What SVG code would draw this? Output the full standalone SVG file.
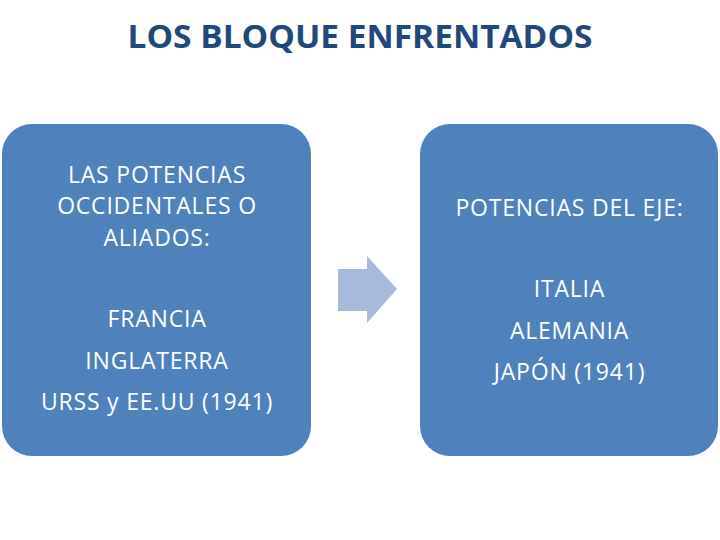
<svg xmlns="http://www.w3.org/2000/svg" width="720" height="540" viewBox="0 0 720 540">
<style>
.box{fill:#4F81BD;}
.t{font-family:"Open Sans","Liberation Sans",Arial,sans-serif;font-size:23px;letter-spacing:0.8px;fill:#FFFFFF;text-anchor:middle;}
.title{font-family:"Open Sans","Liberation Sans",sans-serif;font-weight:bold;font-size:32px;fill:#1F497D;text-anchor:middle;}
</style>
<rect width="720" height="540" fill="#FFFFFF"/>
<text class="title" x="360" y="48" textLength="465" lengthAdjust="spacingAndGlyphs">LOS BLOQUE ENFRENTADOS</text>
<g id="aliados">
<rect class="box" x="2" y="124" width="309" height="332" rx="30" ry="30"/>
<text class="t" x="157" y="183">LAS POTENCIAS</text>
<text class="t" x="157" y="214">OCCIDENTALES O</text>
<text class="t" x="157" y="246">ALIADOS:</text>
<text class="t" x="157" y="327">FRANCIA</text>
<text class="t" x="157" y="369">INGLATERRA</text>
<text class="t" x="157" y="410">URSS y EE.UU (1941)</text>
</g>
<g id="eje">
<rect class="box" x="420" y="124" width="298" height="332" rx="30" ry="30"/>
<text class="t" x="569.5" y="216">POTENCIAS DEL EJE:</text>
<text class="t" x="569.5" y="297">ITALIA</text>
<text class="t" x="569.5" y="339">ALEMANIA</text>
<text class="t" x="569.5" y="380">JAPÓN (1941)</text>
</g>
<g id="connectors">
<polygon points="338,269 367,269 367,256 397,289 367,323 367,311 338,311" fill="#A7BADB"/>
</g>
</svg>
